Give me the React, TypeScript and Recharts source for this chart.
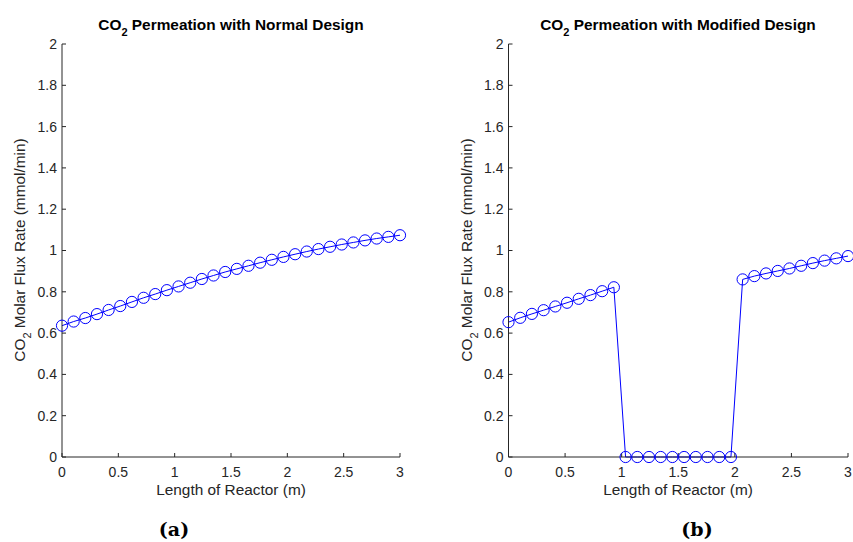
import React from 'react';
import { LineChart, Line, XAxis, YAxis } from 'recharts';

const xPositions = [
  0, 0.1034, 0.2069, 0.3103, 0.4138, 0.5172, 0.6207, 0.7241, 0.8276, 0.931,
  1.0345, 1.1379, 1.2414, 1.3448, 1.4483, 1.5517, 1.6552, 1.7586, 1.8621, 1.9655,
  2.069, 2.1724, 2.2759, 2.3793, 2.4828, 2.5862, 2.6897, 2.7931, 2.8966, 3,
];

const normalFlux = [
  0.636, 0.656, 0.673, 0.692, 0.712, 0.731, 0.751, 0.771, 0.789, 0.808,
  0.826, 0.844, 0.862, 0.879, 0.896, 0.911, 0.926, 0.941, 0.955, 0.969,
  0.982, 0.995, 1.007, 1.018, 1.029, 1.039, 1.049, 1.058, 1.066, 1.074,
];

const modifiedFlux = [
  0.653, 0.674, 0.693, 0.711, 0.729, 0.747, 0.766, 0.784, 0.803, 0.822,
  0, 0, 0, 0, 0, 0, 0, 0, 0, 0,
  0.86, 0.876, 0.889, 0.901, 0.913, 0.926, 0.939, 0.951, 0.962, 0.973,
];

const xTicks = [0, 0.5, 1, 1.5, 2, 2.5, 3];
const yTicks = [0, 0.2, 0.4, 0.6, 0.8, 1, 1.2, 1.4, 1.6, 1.8, 2];
const titles = [' Permeation with Normal Design', ' Permeation with Modified Design'];
const xLabel = 'Length of Reactor (m)';
const yLabelRest = ' Molar Flux Rate (mmol/min)';
const panelLabels = ['(a)', '(b)'];

const FONT = '"Liberation Sans", Arial, Helvetica, sans-serif';
const AXIS = '#262626';
const BLUE = '#0000ff';

type PanelProps = { left: number; width: number; marginLeft: number; marginRight: number; values: number[] };

function Panel({ left, width, marginLeft, marginRight, values }: PanelProps) {
  const data = xPositions.map((x, i) => ({ x, y: values[i] }));
  return (
    <div style={{ position: 'absolute', left, top: 0 }}>
      <LineChart
        width={width}
        height={542}
        data={data}
        margin={{ top: 44, right: marginRight, bottom: 55, left: marginLeft }}
      >
        <XAxis
          dataKey="x"
          type="number"
          domain={[0, 3]}
          ticks={xTicks}
          interval={0}
          height={30}
          tickSize={-4}
          tickMargin={14}
          fontSize={14}
          fontFamily={FONT}
          axisLine={{ stroke: AXIS, strokeWidth: 1 }}
          tickLine={{ stroke: AXIS, strokeWidth: 1 }}
          tick={{ fill: AXIS, fontSize: 14, fontFamily: FONT }}
        />
        <YAxis
          type="number"
          domain={[0, 2]}
          ticks={yTicks}
          interval={0}
          width={40}
          tickSize={-4}
          tickMargin={9}
          fontSize={14}
          fontFamily={FONT}
          axisLine={{ stroke: AXIS, strokeWidth: 1 }}
          tickLine={{ stroke: AXIS, strokeWidth: 1 }}
          tick={{ fill: AXIS, fontSize: 14, fontFamily: FONT }}
        />
        <Line
          dataKey="y"
          type="linear"
          stroke={BLUE}
          strokeWidth={1}
          dot={{ r: 5.6, fill: 'none', stroke: BLUE, strokeWidth: 1 }}
          activeDot={false}
          isAnimationActive={false}
        />
      </LineChart>
    </div>
  );
}

export default function App() {
  const centers = [231, 678];
  const yLabelX = [25, 471.5];
  return (
    <div style={{ position: 'absolute', left: 0, top: 0, width: 853, height: 542, background: '#fff' }}>
      <Panel left={0} width={426} marginLeft={22} marginRight={26} values={normalFlux} />
      <Panel left={426} width={427} marginLeft={42.5} marginRight={5} values={modifiedFlux} />
      <svg
        width={853}
        height={542}
        style={{ position: 'absolute', left: 0, top: 0, pointerEvents: 'none' }}
      >
        {centers.map((cx, i) => (
          <g key={i}>
            <text x={cx} y={30} textAnchor="middle" fontFamily={FONT} fontWeight="bold" fontSize={15.4} fill="#000" style={{ whiteSpace: 'pre' }}>
              CO<tspan dy={6} fontSize={11}>2</tspan>
              <tspan dy={-6}>{titles[i]}</tspan>
            </text>
            <text x={cx} y={495} textAnchor="middle" fontFamily={FONT} fontSize={15.4} fill={AXIS}>
              {xLabel}
            </text>
            <text
              transform={`translate(${yLabelX[i]},250) rotate(-90)`}
              textAnchor="middle"
              fontFamily={FONT}
              fontSize={15.4}
              fill={AXIS}
              style={{ whiteSpace: 'pre' }}
            >
              CO<tspan dy={6} fontSize={11}>2</tspan>
              <tspan dy={-6}>{yLabelRest}</tspan>
            </text>
          </g>
        ))}
        <text x={174} y={536} textAnchor="middle" fontFamily='"DejaVu Serif", serif' fontWeight="bold" fontSize={19} fill="#000">
          {panelLabels[0]}
        </text>
        <text x={697} y={536} textAnchor="middle" fontFamily='"DejaVu Serif", serif' fontWeight="bold" fontSize={19} fill="#000">
          {panelLabels[1]}
        </text>
      </svg>
    </div>
  );
}
